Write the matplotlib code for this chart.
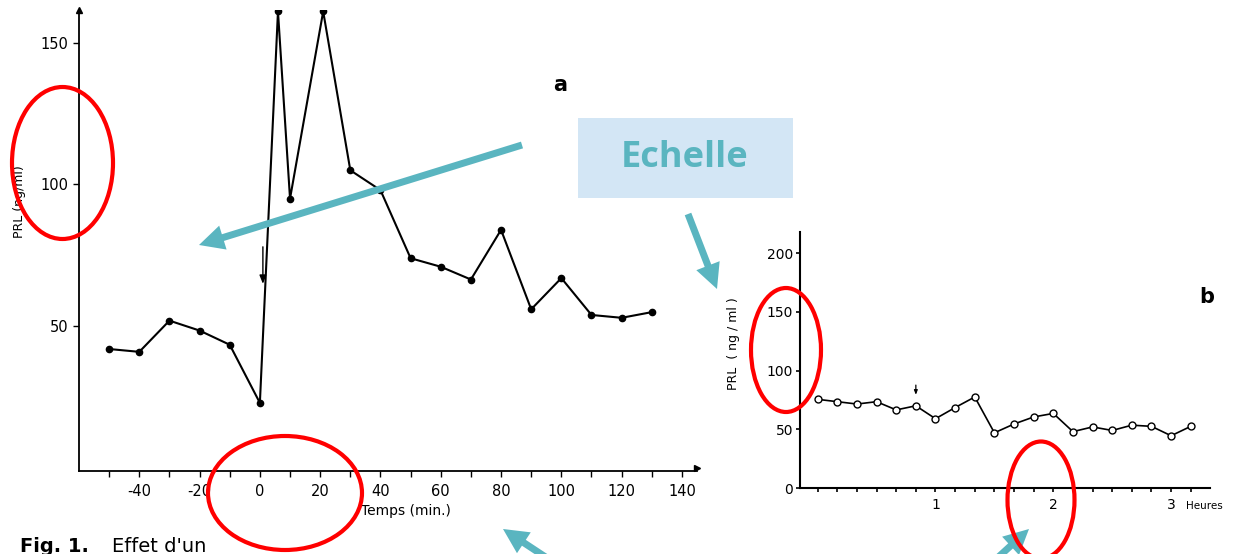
import numpy as np
import matplotlib
matplotlib.use("Agg")
import matplotlib.pyplot as plt
from matplotlib.patches import Ellipse, Rectangle

plt.rcParams['axes.unicode_minus'] = False

# Panel a : PRL (ng/ml) vs temps (min)
temps_a = [-50, -40, -30, -20, -10, 0, 6, 10, 21, 30, 40, 50, 60, 70, 80, 90, 100, 110, 120, 130]
prl_a = [42, 41, 52, 48.5, 43.5, 23, 161, 95, 161, 105, 98, 74, 71, 66.5, 84, 56, 67, 54, 53, 55]
xticks_a = [-40, -20, 0, 20, 40, 60, 80, 100, 120, 140]
yticks_a = [50, 100, 150]

# Panel b : PRL (ng/ml) vs heures, one sample every 10 min
temps_b_min = [0, 10, 20, 30, 40, 50, 60, 70, 80, 90, 100, 110, 120, 130, 140, 150, 160, 170, 180, 190]
prl_b = [75.5, 73.5, 71.5, 73.5, 66.5, 70, 59, 68.5, 77.5, 47, 54.5, 60.5, 63.5, 48, 52, 49, 53.5, 52.5, 44.5, 52.5]
xticks_b = [1, 2, 3]
yticks_b = [0, 50, 100, 150, 200]

W, H = 1235, 554
teal = '#5AB5C0'

fig = plt.figure(figsize=(W / 100, H / 100), dpi=100)
fig.patch.set_facecolor('white')

# ---- panel a
ax = fig.add_axes([79 / W, (H - 471) / H, 618 / W, (471 - 10) / H])
ax.plot(temps_a, prl_a, '-o', color='black', lw=1.5, ms=4.5)
ax.set_xlim(-60, 145)
ax.set_ylim(-1, 161.5)
ax.spines['top'].set_visible(False)
ax.spines['right'].set_visible(False)
ax.spines['left'].set_linewidth(1.3)
ax.spines['bottom'].set_linewidth(1.3)
ax.set_xticks(xticks_a)
ax.set_xticks(np.arange(-50, 140, 20), minor=True)
ax.set_yticks(yticks_a)
ax.tick_params(axis='x', which='both', length=4, width=1, pad=5, labelsize=10.5)
ax.tick_params(axis='y', length=4, width=1, pad=3.5, labelsize=10.5)
ax.plot(1, 0, '>k', ms=5, transform=ax.get_yaxis_transform(), clip_on=False)
ax.plot(-60, 1, '^k', ms=5, transform=ax.get_xaxis_transform(), clip_on=False)
ax.annotate('', xy=(1, 64), xytext=(1, 79),
            arrowprops=dict(arrowstyle='-|>,head_width=0.2,head_length=0.5', lw=1, color='black'))
fig.text(20 / W, 1 - 202 / H, 'PRL (ng/ml)', rotation=90, ha='center', va='center', fontsize=9)
fig.text(406 / W, 1 - 511 / H, 'Temps (min.)', ha='center', va='center', fontsize=10)
fig.text(560 / W, 1 - 85 / H, 'a', ha='center', va='center', fontsize=15, fontweight='bold')

# ---- panel b
axb = fig.add_axes([800 / W, (H - 488) / H, 410 / W, (488 - 232) / H])
axb.plot(np.array(temps_b_min) / 60, prl_b, '-o', color='black', lw=1.2,
         ms=5, mfc='white', mec='black', mew=1)
axb.set_xlim(-0.15, 3.33)
axb.set_ylim(0, 218)
axb.spines['top'].set_visible(False)
axb.spines['right'].set_visible(False)
axb.spines['left'].set_linewidth(1.5)
axb.spines['bottom'].set_linewidth(1.5)
axb.set_xticks(xticks_b)
axb.set_xticks(np.arange(0, 3.2, 1 / 6), minor=True)
axb.set_yticks(yticks_b)
axb.tick_params(axis='x', which='both', length=3, width=1.2, pad=4, labelsize=10)
axb.tick_params(axis='y', length=3, width=1.2, pad=2, labelsize=10)
axb.text(3.13, -0.07, 'Heures', transform=axb.get_xaxis_transform(),
         ha='left', va='center', fontsize=7.5)
axb.annotate('', xy=(50 / 60, 77), xytext=(50 / 60, 90),
             arrowprops=dict(arrowstyle='-|>,head_width=0.1,head_length=0.25', lw=0.9, color='black'))
fig.text(734 / W, 1 - 344 / H, 'PRL  ( ng / ml )', rotation=90, ha='center', va='center', fontsize=9)
fig.text(1207 / W, 1 - 297 / H, 'b', ha='center', va='center', fontsize=15, fontweight='bold')

# caption, cut by the bottom edge
fig.text(20 / W, 1 - 537 / H, "Fig. 1.", ha='left', va='top', fontsize=14, fontweight='bold')
fig.text(112 / W, 1 - 537 / H, "Effet d'un", ha='left', va='top', fontsize=14)

# ---- overlay annotations (pixel coordinates)
ov = fig.add_axes([0, 0, 1, 1], zorder=10)
ov.set_xlim(0, W)
ov.set_ylim(H, 0)
ov.axis('off')
ov.patch.set_alpha(0)

arrows = [((522, 145), (199, 245)), ((688, 214), (717, 289)),
          ((550, 560), (503, 529)), ((993, 562), (1029, 529))]
for (x0, y0), (x1, y1) in arrows:
    ov.arrow(x0, y0, x1 - x0, y1 - y0, width=7, head_width=25, head_length=25,
             length_includes_head=True, color=teal, lw=0)

ellipses = [((62.5, 163), 101, 152), ((285, 493), 154, 114),
            ((786, 350), 70, 124), ((1041, 500), 67, 117)]
for c, w, h in ellipses:
    ov.add_patch(Ellipse(c, w, h, fill=False, ec='#FF0000', lw=3))

ov.add_patch(Rectangle((578, 118), 215, 80, fc='#D3E6F5', ec='none'))
ov.text(685, 158, 'Echelle', ha='center', va='center', fontsize=26,
        fontweight='bold', color=teal, family='Open Sans')

fig.savefig('out.png', dpi=100)
